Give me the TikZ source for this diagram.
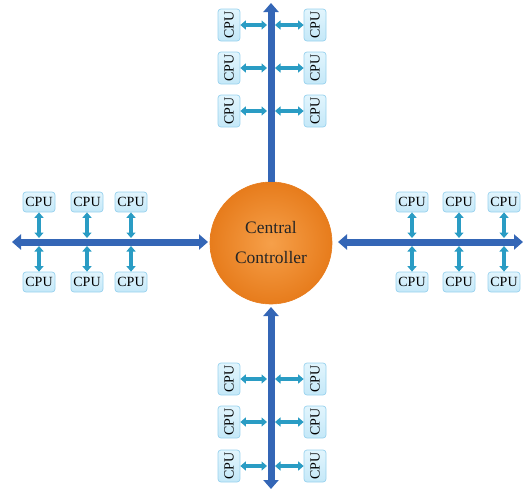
\documentclass[tikz,border=0pt]{standalone}
\usepackage{fontspec}
\setmainfont{Liberation Serif}
\usetikzlibrary{arrows.meta}
\definecolor{busblue}{HTML}{3466B6}
\definecolor{linkteal}{HTML}{2A9CC4}
\definecolor{cpuedge}{HTML}{98D2EE}
\definecolor{cputop}{HTML}{E2F5FD}
\definecolor{cpubot}{HTML}{C4E8F8}
\definecolor{orangein}{HTML}{F6A04A}
\definecolor{orangeout}{HTML}{E77C1C}
\tikzset{
  bustip/.tip={Triangle[width=15pt,length=9pt]},
  linktip/.tip={Triangle[width=9pt,length=5.5pt]}
}
\begin{document}
\begin{tikzpicture}[x=1pt,y=-1pt,
  cpubox/.style={draw=cpuedge, line width=0.7pt, top color=cputop, bottom color=cpubot,
    rounded corners=3pt, minimum width=32pt, minimum height=20pt, inner sep=0pt,
    font=\fontsize{14}{14}\selectfont},
  vcpubox/.style={cpubox, minimum height=22pt, rotate=90},
  bus/.style={busblue, line width=7pt},
  link/.style={linkteal, line width=3.5pt, linktip-linktip}
]
\useasboundingbox (0,0) rectangle (524,490);

% central controller
\node[circle, minimum size=122pt, inner sep=0pt, draw=orangeout, line width=0.6pt,
      inner color=orangein, outer color=orangeout,
      font=\fontsize{17.5}{30}\selectfont, align=center, text=black!85] (cc) at (271,243)
      {Central\\Controller};

% ---------- top branch ----------
\coordinate (ttop) at (271,3);
\draw[bus, -bustip] (cc.north) -- (ttop);
\foreach \i/\y in {1/25, 2/68, 3/111} {
  \node[vcpubox] (tl\i) at (229,\y) {CPU};
  \node[vcpubox] (tr\i) at (315,\y) {CPU};
  \coordinate (tbl\i) at (267,\y);
  \coordinate (tbr\i) at (275,\y);
  \draw[link] (tl\i.south) -- (tbl\i);
  \draw[link] (tbr\i) -- (tr\i.north);
}

% ---------- bottom branch ----------
\coordinate (btop) at (271,307);
\coordinate (bbot) at (271,489);
\draw[bus, bustip-bustip] (btop) -- (bbot);
\foreach \i/\y in {1/379, 2/422, 3/466} {
  \node[vcpubox] (bl\i) at (229,\y) {CPU};
  \node[vcpubox] (br\i) at (315,\y) {CPU};
  \coordinate (bbl\i) at (267,\y);
  \coordinate (bbr\i) at (275,\y);
  \draw[link] (bl\i.south) -- (bbl\i);
  \draw[link] (bbr\i) -- (br\i.north);
}

% ---------- left branch ----------
\coordinate (lleft) at (12,242);
\coordinate (lright) at (208,242);
\draw[bus, bustip-bustip] (lleft) -- (lright);
\foreach \i/\x in {1/39, 2/87, 3/131} {
  \node[cpubox] (lt\i) at (\x,202) {CPU};
  \node[cpubox] (lb\i) at (\x,282) {CPU};
  \coordinate (lbt\i) at (\x,238);
  \coordinate (lbb\i) at (\x,246);
  \draw[link] (lt\i.south) -- (lbt\i);
  \draw[link] (lbb\i) -- (lb\i.north);
}

% ---------- right branch ----------
\coordinate (rleft) at (338,242);
\coordinate (rright) at (523,242);
\draw[bus, bustip-bustip] (rleft) -- (rright);
\foreach \i/\x in {1/412, 2/459, 3/504} {
  \node[cpubox] (rt\i) at (\x,202) {CPU};
  \node[cpubox] (rb\i) at (\x,282) {CPU};
  \coordinate (rbt\i) at (\x,238);
  \coordinate (rbb\i) at (\x,246);
  \draw[link] (rt\i.south) -- (rbt\i);
  \draw[link] (rbb\i) -- (rb\i.north);
}
\end{tikzpicture}
\end{document}
